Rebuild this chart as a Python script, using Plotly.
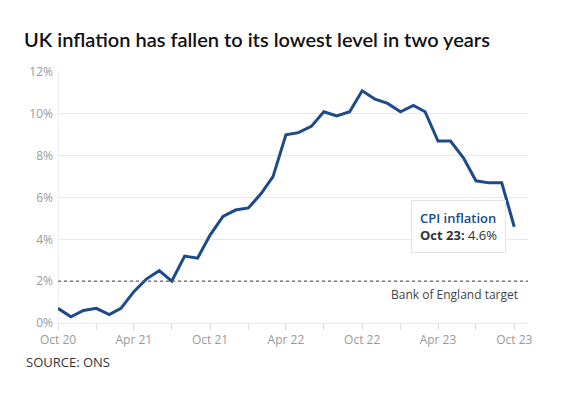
import plotly.graph_objects as go

months = ["2020-10-01","2020-11-01","2020-12-01","2021-01-01","2021-02-01","2021-03-01",
          "2021-04-01","2021-05-01","2021-06-01","2021-07-01","2021-08-01","2021-09-01",
          "2021-10-01","2021-11-01","2021-12-01","2022-01-01","2022-02-01","2022-03-01",
          "2022-04-01","2022-05-01","2022-06-01","2022-07-01","2022-08-01","2022-09-01",
          "2022-10-01","2022-11-01","2022-12-01","2023-01-01","2023-02-01","2023-03-01",
          "2023-04-01","2023-05-01","2023-06-01","2023-07-01","2023-08-01","2023-09-01",
          "2023-10-01"]
cpi = [0.7, 0.3, 0.6, 0.7, 0.4, 0.7, 1.5, 2.1, 2.5, 2.0, 3.2, 3.1,
       4.2, 5.1, 5.4, 5.5, 6.2, 7.0, 9.0, 9.1, 9.4, 10.1, 9.9, 10.1,
       11.1, 10.7, 10.5, 10.1, 10.4, 10.1, 8.7, 8.7, 7.9, 6.8, 6.7, 6.7, 4.6]
target = 2
tick_dates = ["2020-10-01","2021-01-01","2021-04-01","2021-07-01","2021-10-01","2022-01-01",
              "2022-04-01","2022-07-01","2022-10-01","2023-01-01","2023-04-01","2023-07-01",
              "2023-10-01"]
tick_text = ["Oct 20","","Apr 21","","Oct 21","","Apr 22","","Oct 22","","Apr 23","","Oct 23"]
y_ticks = [0, 2, 4, 6, 8, 10, 12]
y_text = ["0%","2%","4%","6%","8%","10%","12%"]

FONT = "Open Sans"
BLUE = "#1d4a8a"

fig = go.Figure()
fig.add_trace(go.Scatter(x=months, y=cpi, mode="lines",
                         line=dict(color=BLUE, width=3), hoverinfo="skip"))

fig.add_shape(type="line", xref="paper", x0=0, x1=1, yref="y", y0=target, y1=target,
              line=dict(color="#666666", width=1.3, dash="dot"))
fig.add_annotation(xref="paper", x=0.982, yref="y", y=target, yshift=-13,
                   xanchor="right", yanchor="middle", showarrow=False,
                   text="Bank of England target",
                   font=dict(family=FONT, size=12, color="#444444"))

fig.add_annotation(x=months[-1], y=cpi[-1], xanchor="right", yanchor="middle",
                   xshift=-8, showarrow=False, align="left",
                   text=("<span style='color:%s;font-weight:600'>CPI inflation</span><br>"
                         "<b>Oct 23:</b> %.1f%%" % (BLUE, cpi[-1])),
                   font=dict(family=FONT, size=13, color="#333333"),
                   bgcolor="white", bordercolor="#e4e4e4", borderwidth=1, borderpad=8)

fig.update_layout(
    width=573, height=394,
    margin=dict(l=50, r=53, t=64, b=79),
    paper_bgcolor="white", plot_bgcolor="white",
    showlegend=False,
    font=dict(family=FONT),
    title=dict(text="UK inflation has fallen to its lowest level in two years",
               x=0, xref="container", xanchor="left", y=0.919, yref="container", yanchor="middle",
               pad=dict(l=16),
               font=dict(family="Lato", size=20, color="#111111", weight=600)),
)
fig.update_xaxes(type="date", range=["2020-10-01", "2023-11-03"],
                 tickvals=tick_dates, ticktext=tick_text,
                 ticks="outside", ticklen=6, tickcolor="#dddddd",
                 showgrid=False, showline=True, linecolor="#e6e6e6",
                 tickfont=dict(family=FONT, size=12, color="#9a9a9a"))
fig.update_yaxes(range=[0, 12], tickvals=y_ticks, ticktext=y_text,
                 showgrid=True, gridcolor="#e8e8e8", zeroline=False,
                 ticks="", ticklabelstandoff=4,
                 tickfont=dict(family=FONT, size=12, color="#9a9a9a"))
fig.add_shape(type="line", xref="x", x0=months[0], x1=months[0], yref="paper", y0=0, y1=1,
              line=dict(color="#e6e6e6", width=1), layer="below")

fig.add_annotation(xref="paper", x=0, xshift=-34, yref="paper", y=0, yshift=-39,
                   xanchor="left", yanchor="middle", showarrow=False,
                   text="SOURCE: ONS", font=dict(family=FONT, size=13, color="#333333"))

fig.write_html("out.html")
